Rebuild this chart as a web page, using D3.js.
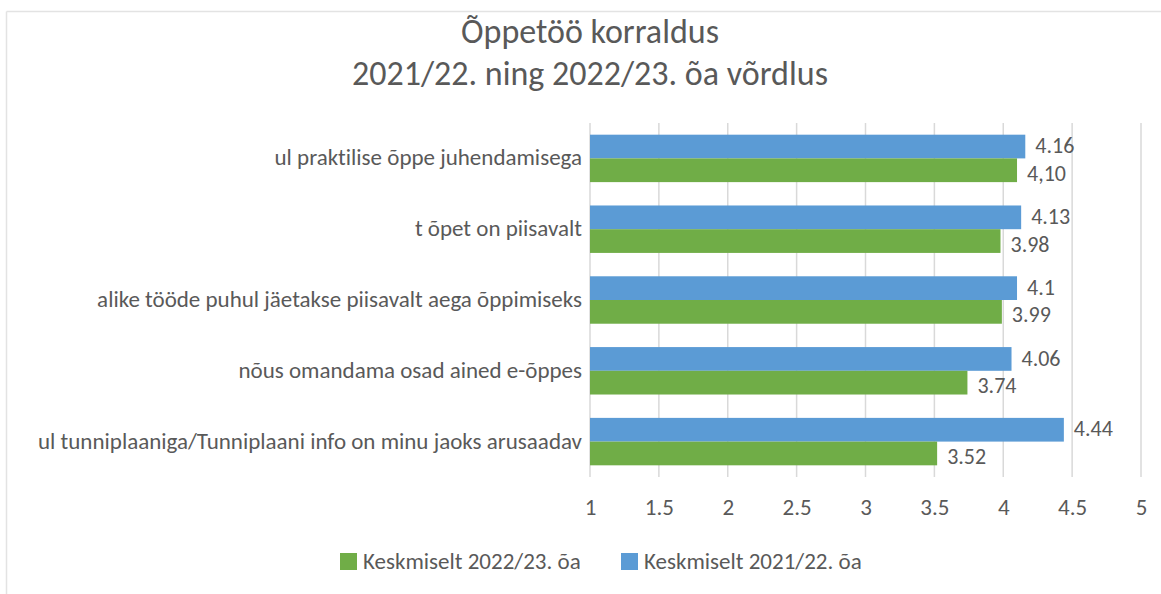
<!DOCTYPE html>
<html>
<head>
<meta charset="UTF-8">
<script src="https://cdn.jsdelivr.net/npm/d3@7"></script>
<style>
  body { margin: 0; background: #fff; }
  text { font-family: Carlito, Calibri, "Liberation Sans", sans-serif; fill: #595959; font-variant-ligatures: none; }
</style>
</head>
<body>
<svg id="chart" width="1161" height="594"></svg>
<script>
// categories, top to bottom (left part of the labels is cut off in the original)
var categories = [
  "ul praktilise õppe juhendamisega",
  "t õpet on piisavalt",
  "alike tööde puhul jäetakse piisavalt aega õppimiseks",
  "nõus omandama osad ained e-õppes",
  "ul tunniplaaniga/Tunniplaani info on minu jaoks arusaadav"
];
var seriesNames = ["Keskmiselt 2022/23. õa", "Keskmiselt 2021/22. õa"];
var values2122 = [4.16, 4.13, 4.1, 4.06, 4.44];
var labels2122 = ["4.16", "4.13", "4.1", "4.06", "4.44"];
var values2223 = [4.10, 3.98, 3.99, 3.74, 3.52];
var labels2223 = ["4,10", "3.98", "3.99", "3.74", "3.52"];
var xTicks = [1, 1.5, 2, 2.5, 3, 3.5, 4, 4.5, 5];

var svg = d3.select("#chart");
var blue = "#5b9bd5", green = "#70ad47";
var fs = "23px";

// chart frame (only top and left edges visible in the crop)
svg.append("line").attr("x1", 6.5).attr("x2", 1161).attr("y1", 11.5).attr("y2", 11.5)
  .attr("stroke", "#e3e3e3").attr("stroke-width", 1.5);
svg.append("line").attr("x1", 6.5).attr("x2", 6.5).attr("y1", 11.5).attr("y2", 594)
  .attr("stroke", "#e3e3e3").attr("stroke-width", 1.5);

// title
var title = svg.append("text").attr("text-anchor", "middle").style("font-size", "34px");
title.append("tspan").attr("x", 590).attr("y", 43).text("Õppetöö korraldus");
title.append("tspan").attr("x", 590).attr("y", 85).text("2021/22. ning 2022/23. õa võrdlus");

var x = d3.scaleLinear().domain([1, 5]).range([590, 1141]);
var y = d3.scaleBand().domain(categories).range([123, 477]).paddingInner(0.33).paddingOuter(0.165);
var sub = d3.scaleBand().domain(["b", "g"]).range([0, y.bandwidth()]);

// gridlines
svg.append("g").selectAll("line").data(xTicks).join("line")
  .attr("x1", d => x(d)).attr("x2", d => x(d))
  .attr("y1", 123).attr("y2", 477)
  .attr("stroke", "#d9d9d9").attr("stroke-width", 1.5);

// x axis labels
var xAxis = svg.append("g").attr("transform", "translate(0,477)")
  .call(d3.axisBottom(x).tickValues(xTicks).tickFormat(d3.format("")).tickSize(0).tickPadding(22));
xAxis.select(".domain").remove();
xAxis.selectAll("text").style("font-size", fs).style("fill", "#595959")
  .style("font-family", "Carlito, Calibri, 'Liberation Sans', sans-serif");

// category labels, clipped at the frame edge
svg.append("clipPath").attr("id", "lclip").append("rect")
  .attr("x", 7).attr("y", 100).attr("width", 600).attr("height", 400);
svg.append("g").attr("clip-path", "url(#lclip)").selectAll("text").data(categories).join("text")
  .attr("x", 582).attr("y", d => y(d) + y.bandwidth() / 2)
  .attr("dy", "0.3em").attr("text-anchor", "end").style("font-size", fs)
  .text(d => d);

// bars
var rows = categories.map((c, i) => ({c: c, b: values2122[i], g: values2223[i], bl: labels2122[i], gl: labels2223[i]}));
var grp = svg.append("g").selectAll("g").data(rows).join("g")
  .attr("transform", d => "translate(0," + y(d.c) + ")");
grp.append("rect").attr("x", x(1)).attr("y", sub("b"))
  .attr("width", d => x(d.b) - x(1)).attr("height", sub.bandwidth()).attr("fill", blue);
grp.append("rect").attr("x", x(1)).attr("y", sub("g"))
  .attr("width", d => x(d.g) - x(1)).attr("height", sub.bandwidth()).attr("fill", green);
grp.append("text").attr("x", d => x(d.b) + 10).attr("y", sub("b") + sub.bandwidth() / 2)
  .attr("dy", "0.3em").style("font-size", "22px").text(d => d.bl);
grp.append("text").attr("x", d => x(d.g) + 10).attr("y", sub("g") + sub.bandwidth() / 2 + 4)
  .attr("dy", "0.3em").style("font-size", "22px").text(d => d.gl);

// legend
var legend = svg.append("g").selectAll("g").data([[seriesNames[0], green, 340], [seriesNames[1], blue, 621]]).join("g")
  .attr("transform", d => "translate(" + d[2] + ",553)");
legend.append("rect").attr("width", 17).attr("height", 17).attr("fill", d => d[1]);
legend.append("text").attr("x", 23).attr("y", 9).attr("dy", "0.3em").style("font-size", fs).text(d => d[0]);
</script>
</body>
</html>
